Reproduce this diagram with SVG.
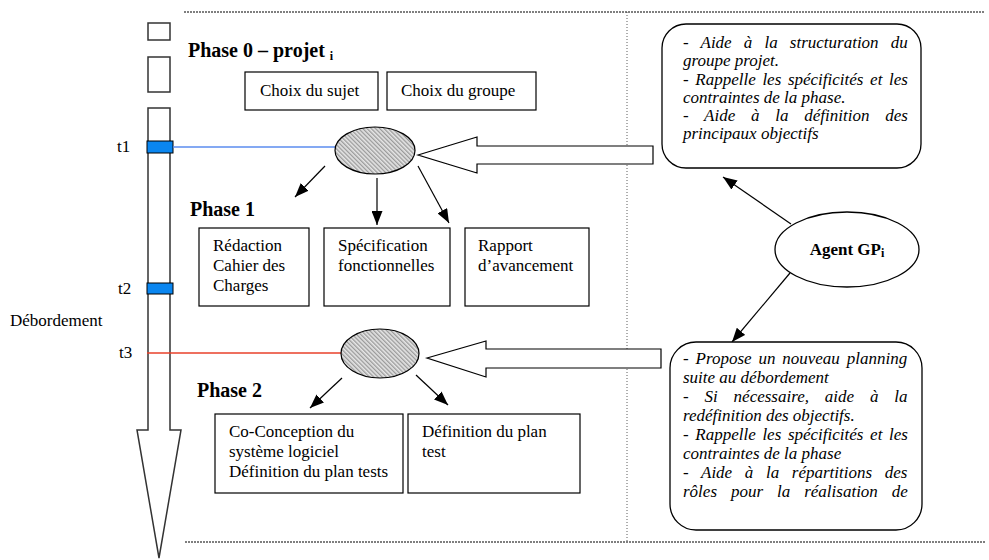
<svg xmlns="http://www.w3.org/2000/svg" width="989" height="560" viewBox="0 0 989 560">
<style>
  text { font-family: "Liberation Serif", "Times New Roman", serif; fill: #000; }
  .t { font-size: 17px; }
  .h { font-size: 20px; font-weight: bold; }
  .it { font-size: 17px; font-style: italic; }
  .box { fill: #fff; stroke: #000; stroke-width: 1.2; }
  .rbox { fill: #fff; stroke: #000; stroke-width: 1.3; }
  .hollow { fill: #fff; stroke: #000; stroke-width: 1.2; }
  .conn { stroke: #000; stroke-width: 1.2; fill: none; marker-end: url(#ah); }
  .dot { stroke: #000; stroke-width: 1.2; stroke-dasharray: 2 1; fill: none; }
  .vdot { stroke: #333; stroke-width: 0.8; stroke-dasharray: 1 2; fill: none; }
  .bar { fill: #fff; stroke: #333; stroke-width: 1.5; }
  .tick { fill: #0a86f0; stroke: #000; stroke-width: 1; }
  .hatch { fill: url(#hp); stroke: #000; stroke-width: 1.2; }
</style>
<defs>
  <marker id="ah" markerUnits="userSpaceOnUse" markerWidth="15" markerHeight="11" refX="14" refY="5.5" orient="auto">
    <path d="M0,0 L14,5.5 L0,11 Z" fill="#000"/>
  </marker>
  <pattern id="hp" patternUnits="userSpaceOnUse" width="3" height="3" patternTransform="rotate(-45)">
    <rect width="3" height="3" fill="#e6e6e6"/>
    <line x1="0.75" y1="0" x2="0.75" y2="3" stroke="#666" stroke-width="0.8"/>
  </pattern>
</defs>

<rect width="989" height="560" fill="#fff"/>

<!-- frame lines -->
<g id="frame">
  <line class="dot" x1="184" y1="12" x2="985" y2="12"/>
  <line class="dot" x1="185" y1="542" x2="985" y2="542"/>
  <line class="vdot" x1="627" y1="12" x2="627" y2="542"/>
</g>

<!-- timeline -->
<g id="timeline">
  <rect class="bar" x="148" y="23" width="22" height="17"/>
  <rect class="bar" x="148" y="57" width="22" height="35"/>
  <path class="bar" d="M148,108 L170,108 L170,430 L181,430 L159,558 L137,430 L148,430 Z"/>
  <rect class="tick" x="147" y="141" width="26" height="12"/>
  <rect class="tick" x="147" y="283" width="26" height="11"/>
  <text class="t" x="117" y="152">t1</text>
  <text class="t" x="118" y="294">t2</text>
  <text class="t" x="119" y="358">t3</text>
  <text class="t" x="10" y="326">Débordement</text>
</g>

<!-- connectors -->
<g id="connectors">
  <line x1="173" y1="147" x2="336" y2="147" stroke="#5b8def" stroke-width="1.5"/>
  <line x1="147" y1="353" x2="341" y2="353" stroke="#e8402a" stroke-width="1.3"/>
  <line class="conn" x1="325" y1="166" x2="295" y2="197"/>
  <line class="conn" x1="377" y1="178" x2="377" y2="225"/>
  <line class="conn" x1="418" y1="166" x2="449" y2="223"/>
  <line class="conn" x1="342" y1="378" x2="310" y2="408"/>
  <line class="conn" x1="416" y1="375" x2="448" y2="405"/>
  <line class="conn" x1="791" y1="224" x2="723" y2="177"/>
  <line class="conn" x1="790" y1="273" x2="732" y2="342"/>
  <polygon class="hollow" points="418,155 477,137 477,146 653,146 653,164 477,164 477,173"/>
  <polygon class="hollow" points="427,358 486,341 486,349 661,349 661,368 486,368 486,377"/>
</g>

<!-- Phase 0 -->
<g id="phase0">
  <text class="h" x="188" y="57">Phase 0 – projet <tspan font-size="12" dy="3">i</tspan></text>
</g>
<g id="choix-sujet">
  <rect class="box" x="245" y="72" width="133" height="38"/>
  <text class="t" x="260" y="96">Choix du sujet</text>
</g>
<g id="choix-groupe">
  <rect class="box" x="387" y="72" width="149" height="38"/>
  <text class="t" x="401" y="96">Choix du groupe</text>
</g>
<g id="ellipse1">
  <ellipse class="hatch" cx="375" cy="150.5" rx="40" ry="23.5"/>
</g>

<!-- Phase 1 -->
<g id="phase1">
  <text class="h" x="190" y="216">Phase 1</text>
</g>
<g id="redaction">
  <rect class="box" x="199" y="228" width="110" height="78"/>
  <text class="t" x="213" y="251">Rédaction</text>
  <text class="t" x="213" y="271">Cahier des</text>
  <text class="t" x="213" y="291">Charges</text>
</g>
<g id="specification">
  <rect class="box" x="324" y="228" width="126" height="78"/>
  <text class="t" x="338" y="251">Spécification</text>
  <text class="t" x="338" y="271">fonctionnelles</text>
</g>
<g id="rapport">
  <rect class="box" x="465" y="228" width="124" height="78"/>
  <text class="t" x="478" y="251">Rapport</text>
  <text class="t" x="478" y="271">d’avancement</text>
</g>

<!-- Phase 2 -->
<g id="ellipse2">
  <ellipse class="hatch" cx="380" cy="353.5" rx="39" ry="24.5"/>
</g>
<g id="phase2">
  <text class="h" x="197" y="397">Phase 2</text>
</g>
<g id="coconception">
  <rect class="box" x="215" y="414" width="188" height="79"/>
  <text class="t" x="229" y="437">Co-Conception du</text>
  <text class="t" x="229" y="457">système logiciel</text>
  <text class="t" x="229" y="477">Définition du plan tests</text>
</g>
<g id="definition">
  <rect class="box" x="408" y="414" width="172" height="79"/>
  <text class="t" x="422" y="437">Définition du plan</text>
  <text class="t" x="422" y="457">test</text>
</g>

<!-- Agent -->
<g id="agent">
  <ellipse fill="#fff" stroke="#000" stroke-width="1.3" cx="847" cy="249.5" rx="72" ry="37.5"/>
  <text class="t" font-weight="bold" x="847" y="255" text-anchor="middle">Agent GP<tspan font-size="12" dy="2">i</tspan></text>
</g>

<g id="note-top">
  <rect class="rbox" x="662" y="24" width="259" height="144" rx="24" ry="24"/>
  <text class="it" x="683" y="48" word-spacing="7.9">- Aide à la structuration du</text>
  <text class="it" x="683" y="66">groupe projet.</text>
  <text class="it" x="683" y="84.5" word-spacing="2.4">- Rappelle les spécificités et les</text>
  <text class="it" x="683" y="102.5">contraintes de la phase.</text>
  <text class="it" x="683" y="120.5" word-spacing="11.5">- Aide à la définition des</text>
  <text class="it" x="683" y="139">principaux objectifs</text>
</g>

<g id="note-bottom">
  <rect class="rbox" x="670" y="342" width="252" height="188" rx="26" ry="26"/>
  <text class="it" x="683" y="364" word-spacing="2.6">- Propose un nouveau planning</text>
  <text class="it" x="683" y="383">suite au débordement</text>
  <text class="it" x="683" y="402" word-spacing="11.6">- Si nécessaire, aide à la</text>
  <text class="it" x="683" y="421">redéfinition des objectifs.</text>
  <text class="it" x="683" y="440" word-spacing="2.4">- Rappelle les spécificités et les</text>
  <text class="it" x="683" y="459">contraintes de la phase</text>
  <text class="it" x="683" y="478" word-spacing="8.4">- Aide à la répartitions des</text>
  <text class="it" x="683" y="497" word-spacing="9.7">rôles pour la réalisation de</text>
</g>
</svg>
